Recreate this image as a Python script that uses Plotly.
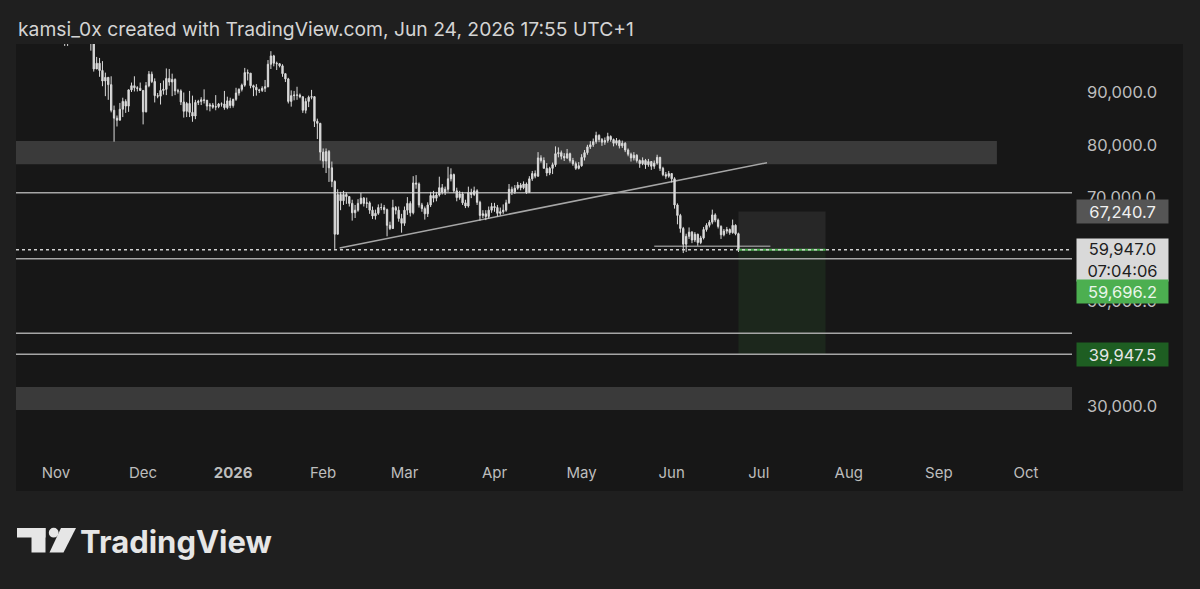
import plotly.graph_objects as go
import pandas as pd

# ---------------- data (BTC daily, prices in thousands USD) ----------------
start_date = "2025-11-04"
first_open = 106.5

close_nov = [101.5,103.9,101.3,103.3,102.3,104.7,106.0,103.0,101.6,99.7,94.5,95.6,94.2,92.2,92.9,91.5,86.6,85.1,84.7,86.8,88.3,87.4,90.5,91.3,90.9,90.8,90.4]
high_nov = [106.6,104.5,104.0,104.0,103.4,105.0,106.6,107.0,105.3,104.0,99.8,96.8,96.6,96.0,93.8,92.8,93.1,87.5,85.6,88.0,89.0,88.7,90.6,91.9,93.1,91.2,91.9]
low_nov = [98.9,98.9,100.3,99.3,101.4,101.5,104.3,102.5,100.9,98.0,94.0,94.5,93.0,91.2,89.3,88.6,86.2,80.6,83.5,84.7,85.3,86.1,86.3,90.1,90.2,90.2,90.3]

close_dec = [86.3,91.3,93.5,92.1,89.4,89.3,90.4,90.6,92.7,92.0,92.5,90.3,90.3,88.2,86.4,87.9,86.2,85.5,88.1,88.3,88.6,88.5,87.4,87.6,87.2,87.3,87.8,87.8,87.1,88.4,87.5]
high_dec = [90.4,92.0,94.1,94.0,92.7,89.9,91.8,92.3,94.6,94.5,93.6,92.7,90.7,90.6,90.0,88.2,90.3,89.4,88.6,88.6,89.1,90.6,88.6,88.0,88.0,89.5,88.0,88.1,90.3,89.2,89.0]
low_dec = [83.9,86.2,91.0,91.8,88.1,88.9,87.7,89.6,89.5,91.3,89.3,89.5,89.8,87.6,85.2,85.3,85.3,84.4,84.9,87.6,87.6,87.9,86.6,86.4,86.9,86.6,87.0,87.3,86.7,86.8,87.0]

close_jan = [88.7,89.9,90.6,91.4,93.8,93.7,91.3,91.0,90.5,90.4,90.8,91.1,95.4,97.0,95.6,95.5,95.1,93.6,92.6,88.3,89.4,89.5,89.5,89.2,86.6,88.3,89.1,89.2,84.5,84.1,78.6]
high_jan = [88.8,90.9,90.8,91.7,94.7,94.4,93.6,91.5,91.6,90.7,91.2,92.4,96.2,97.9,97.2,95.9,95.6,95.4,93.4,92.8,90.4,90.3,91.1,89.8,89.2,88.9,89.4,90.5,89.3,85.0,84.2]
low_jan = [87.1,88.4,89.4,90.2,91.1,92.3,90.8,89.3,89.4,89.9,90.1,90.1,91.0,94.5,95.0,94.3,94.8,93.0,92.0,87.9,87.3,88.5,88.6,88.9,86.1,86.0,87.2,88.7,83.4,81.1,77.0]

close_feb = [76.9,78.7,75.6,73.0,62.9,70.5,69.3,70.5,70.1,68.8,67.0,67.5,68.8,69.8,68.8,68.9,67.5,66.4,66.9,68.0,68.0,67.6,64.6,64.0,68.0,67.5,65.9,65.0]
high_feb = [79.3,79.3,79.0,76.8,73.2,71.5,71.0,71.2,70.9,70.0,69.5,68.5,69.6,70.8,70.0,69.9,69.2,68.2,67.6,68.6,68.8,68.5,67.8,65.3,69.5,68.3,68.2,66.8]
low_feb = [75.6,74.6,72.9,71.9,60.1,62.9,67.5,68.5,68.7,68.2,65.5,66.0,67.2,68.6,68.2,67.9,66.8,65.8,65.7,66.6,67.5,66.8,62.5,63.7,63.9,66.7,65.3,63.2]

close_mar = [67.5,68.8,67.0,72.7,72.5,68.5,67.8,66.8,68.5,70.3,69.8,70.4,71.8,70.9,71.5,73.5,74.3,71.2,69.9,70.6,68.9,68.3,70.9,70.5,71.2,69.0,66.5,66.8,66.3,67.5,68.2]
high_mar = [68.2,70.0,69.2,74.0,74.2,72.8,68.9,68.2,69.0,71.0,71.2,71.0,73.9,72.5,72.0,75.8,75.5,74.5,71.8,71.2,71.0,69.5,72.0,71.6,72.0,71.5,69.3,67.5,67.5,68.2,68.9]
low_mar = [64.5,66.6,66.3,66.7,71.6,68.0,67.2,65.7,66.2,68.1,69.0,69.2,70.1,70.5,70.4,71.0,73.0,70.8,69.2,69.5,68.5,67.9,68.0,69.8,70.2,68.5,65.5,66.0,65.6,65.9,67.0]

close_apr = [68.0,66.9,67.2,67.5,68.9,71.5,71.0,71.7,72.3,71.8,72.5,70.9,73.5,74.5,74.0,77.5,77.0,75.5,74.6,75.5,76.2,78.3,78.5,77.8,77.5,78.3,77.0,76.4,75.5,76.0]
high_apr = [68.9,68.5,68.0,68.6,69.5,72.5,72.0,72.3,72.9,72.7,73.0,72.8,74.0,75.0,75.1,78.6,78.0,77.6,76.5,75.8,76.6,79.7,79.5,78.9,78.4,79.2,78.5,77.5,76.8,76.7]
low_apr = [67.2,66.3,66.5,66.8,67.2,68.7,70.4,70.6,71.4,71.3,71.5,70.6,70.8,73.1,73.6,73.9,76.6,75.5,74.0,74.2,74.4,75.8,77.6,77.2,76.9,77.3,76.6,76.0,75.2,75.3]

close_may = [77.6,78.5,79.6,80.0,80.6,81.8,81.0,80.5,80.8,81.6,81.0,80.3,80.8,79.8,80.3,79.0,78.2,77.5,78.0,77.0,76.4,77.0,76.2,76.8,75.9,76.5,77.6,75.5,74.3,74.0,74.5]
high_may = [78.2,79.0,80.0,80.7,81.2,82.5,82.0,81.3,81.4,82.3,81.8,81.2,81.3,81.0,80.8,80.5,79.3,78.5,78.6,78.2,77.2,77.6,77.3,77.3,76.9,77.0,78.1,77.7,75.8,74.8,75.0]
low_may = [75.8,77.0,78.1,79.2,79.6,80.2,80.5,79.8,80.0,80.4,80.6,79.7,79.9,79.3,79.4,78.6,77.8,76.8,77.0,76.6,75.6,76.1,75.4,75.8,75.2,75.4,76.2,75.0,74.0,73.5,73.7]

close_jun = [73.5,68.5,66.5,64.0,61.0,62.5,63.3,61.8,62.9,61.3,62.2,63.8,64.6,65.2,66.6,65.6,64.4,62.8,63.5,63.8,63.2,64.6,63.0,59.947]
high_jun = [74.6,73.8,68.8,66.8,64.3,63.0,64.2,63.5,63.3,63.0,62.6,64.3,65.0,65.6,67.6,66.9,65.9,64.6,63.9,64.3,64.0,65.7,64.8,63.2]
low_jun = [72.8,67.8,64.8,63.2,59.3,59.5,62.0,61.2,61.4,60.7,61.0,61.9,63.4,64.2,64.8,65.2,64.0,62.0,62.5,63.0,62.8,63.0,62.7,59.5]

# drawings on the chart (price levels in USD)
resistance_zone = (76300, 80750)
support_zone = (29300, 33700)
horizontal_levels = [70850, 58200, 43950, 39950]
current_price = 59947.0
short_level = 60600
short_level_dates = ("2026-05-26", "2026-07-05")
upper_zone_end = "2026-09-21"
trendline_points = [("2026-02-06 16:00", 60270), ("2026-07-03 20:00", 76580)]
position_dates = ("2026-06-24", "2026-07-24")
position_stop = 67240.7
position_entry = 59947.0
position_target = 39947.5

month_ticks = ["2025-11-01", "2025-12-01", "2026-01-01", "2026-02-01", "2026-03-01", "2026-04-01",
               "2026-05-01", "2026-06-01", "2026-07-01", "2026-08-01", "2026-09-01", "2026-10-01"]
month_labels = ["Nov", "Dec", "<b>2026</b>", "Feb", "Mar", "Apr", "May", "Jun", "Jul", "Aug", "Sep", "Oct"]
# 40,000 and 60,000 are fully hidden behind price labels in the reference
price_ticks = [30000, 50000, 70000, 80000, 90000]

title_text = "kamsi_0x created with TradingView.com, Jun 24, 2026 17:55 UTC+1"

# ---------------- build OHLC ----------------
close = [v * 1000 for v in close_nov + close_dec + close_jan + close_feb + close_mar + close_apr + close_may + close_jun]
high = [v * 1000 for v in high_nov + high_dec + high_jan + high_feb + high_mar + high_apr + high_may + high_jun]
low = [v * 1000 for v in low_nov + low_dec + low_jan + low_feb + low_mar + low_apr + low_may + low_jun]
opens = [first_open * 1000] + close[:-1]
high = [max(h, o, c) for h, o, c in zip(high, opens, close)]
low = [min(l, o, c) for l, o, c in zip(low, opens, close)]
dates = pd.date_range(start_date, periods=len(close), freq="D")

# ---------------- layout geometry (pixels) ----------------
W, H = 1200, 589
L, R, T, B = 16, 1072, 44, 450
def px(x):
    return (x - L) / (R - L)
def py(y):
    return (B - y) / (B - T)

BG_OUT = "#1f1f1f"
BG_PANE = "#171717"
CANDLE = "#dadada"
LINE = "#a6a6a6"
ZONE = "#3a3a3a"
TXT = "#bdbdbd"
FONT = "Inter"

X_RANGE = ["2025-10-18 05:30", "2026-10-16 20:40"]
Y_RANGE = [21646, 99273]

fig = go.Figure()
fig.add_trace(go.Candlestick(
    x=dates, open=opens, high=high, low=low, close=close,
    increasing=dict(line=dict(color=CANDLE, width=1), fillcolor=CANDLE),
    decreasing=dict(line=dict(color=CANDLE, width=1), fillcolor=CANDLE),
    whiskerwidth=0, hoverinfo="skip", showlegend=False,
))

shapes = []
# chart pane background (pane + axes)
shapes.append(dict(type="rect", xref="paper", yref="paper", x0=0, x1=px(1183), y0=py(491), y1=1,
                   fillcolor=BG_PANE, line=dict(width=0), layer="below"))
# zones
shapes.append(dict(type="rect", xref="x", yref="y", x0=X_RANGE[0], x1=upper_zone_end,
                   y0=resistance_zone[0], y1=resistance_zone[1], fillcolor=ZONE, line=dict(width=0), layer="below"))
shapes.append(dict(type="rect", xref="x", yref="y", x0=X_RANGE[0], x1=X_RANGE[1],
                   y0=support_zone[0], y1=support_zone[1], fillcolor=ZONE, line=dict(width=0), layer="below"))
# position tool
shapes.append(dict(type="rect", xref="x", yref="y", x0=position_dates[0], x1=position_dates[1],
                   y0=position_entry, y1=position_stop, fillcolor="rgba(150,150,150,0.13)", line=dict(width=0), layer="below"))
shapes.append(dict(type="rect", xref="x", yref="y", x0=position_dates[0], x1=position_dates[1],
                   y0=position_target, y1=position_entry, fillcolor="rgba(60,150,60,0.13)", line=dict(width=0), layer="below"))
# horizontal levels
for lv in horizontal_levels:
    shapes.append(dict(type="line", xref="x", yref="y", x0=X_RANGE[0], x1=X_RANGE[1], y0=lv, y1=lv,
                       line=dict(color=LINE, width=1.5), layer="below"))
# short level
shapes.append(dict(type="line", xref="x", yref="y", x0=short_level_dates[0], x1=short_level_dates[1],
                   y0=short_level, y1=short_level, line=dict(color="#8a8a8a", width=1.5), layer="below"))
# trendline
shapes.append(dict(type="line", xref="x", yref="y", x0=trendline_points[0][0], y0=trendline_points[0][1],
                   x1=trendline_points[1][0], y1=trendline_points[1][1], line=dict(color=LINE, width=1.5), layer="below"))
# entry line (green)
shapes.append(dict(type="line", xref="x", yref="y", x0=position_dates[0], x1=position_dates[1],
                   y0=position_entry, y1=position_entry, line=dict(color="#4caf50", width=2), layer="above"))
# current price dotted line
shapes.append(dict(type="line", xref="x", yref="y", x0=X_RANGE[0], x1=X_RANGE[1], y0=current_price, y1=current_price,
                   line=dict(color="#d0d0d0", width=1.5, dash="dot"), layer="above"))

# TradingView logo
LOGO = "#e6e6e6"
shapes.append(dict(type="rect", xref="paper", yref="paper", x0=px(17), x1=px(45.5), y0=py(537.5), y1=py(528),
                   fillcolor=LOGO, line=dict(width=0)))
shapes.append(dict(type="rect", xref="paper", yref="paper", x0=px(31.5), x1=px(45.5), y0=py(552.5), y1=py(528),
                   fillcolor=LOGO, line=dict(width=0)))
shapes.append(dict(type="circle", xref="paper", yref="paper", x0=px(48.8), x1=px(58.6), y0=py(537.6), y1=py(527.8),
                   fillcolor=LOGO, line=dict(width=0)))
slash = "M {} {} L {} {} L {} {} L {} {} Z".format(px(61), py(528), px(76), py(528), px(63.5), py(552.5), px(49.5), py(552.5))
shapes.append(dict(type="path", xref="paper", yref="paper", path=slash, fillcolor=LOGO, line=dict(width=0)))

annotations = []
annotations.append(dict(text=title_text, xref="paper", yref="paper", x=px(16), y=py(29), xanchor="left",
                        yanchor="middle", showarrow=False, font=dict(family=FONT, size=19.3, color="#d4d4d4")))
annotations.append(dict(text="TradingView", xref="paper", yref="paper", x=px(78), y=py(541), xanchor="left",
                        yanchor="middle", showarrow=False, font=dict(family=FONT, size=31, color=LOGO, weight=700)))

def price_box(value, text, bg, fg, yshift=0, lines=1):
    return dict(text=text, xref="paper", yref="y", x=px(1076), y=value, xanchor="left", yanchor="middle",
                yshift=yshift, showarrow=False, bgcolor=bg, borderpad=2, width=87,
                height=19 if lines == 1 else 38, align="center", font=dict(family=FONT, size=16.5, color=fg))

annotations.append(price_box(position_stop, f"{position_stop:,.1f}", "#555555", "#f0f0f0"))
annotations.append(price_box(current_price, f"{current_price:,.1f}<br>07:04:06", "#d9d9d9", "#1e1e1e", yshift=-10, lines=2))
annotations.append(price_box(59696.2, "59,696.2", "#4caf50", "#eaf6ea", yshift=-41))
annotations.append(price_box(position_target, f"{position_target:,.1f}", "#1e5e22", "#e6e6e6"))

fig.update_layout(
    width=W, height=H,
    margin=dict(l=L, r=W - R, t=T, b=H - B, pad=0),
    paper_bgcolor=BG_OUT, plot_bgcolor="rgba(0,0,0,0)",
    shapes=shapes, annotations=annotations,
    showlegend=False, hovermode=False, boxgap=0.35,
    xaxis=dict(type="date", range=X_RANGE, rangeslider=dict(visible=False), showgrid=False, zeroline=False,
               showline=False, ticks="", tickvals=month_ticks, ticktext=month_labels,
               tickfont=dict(family=FONT, size=15, color=TXT), ticklabelstandoff=12, fixedrange=True),
    yaxis=dict(side="right", range=Y_RANGE, showgrid=False, zeroline=False, showline=False, ticks="",
               tickvals=price_ticks, tickformat=",.1f", tickfont=dict(family=FONT, size=16.5, color=TXT),
               ticklabelstandoff=14, fixedrange=True),
)

fig.write_html("out.html")
